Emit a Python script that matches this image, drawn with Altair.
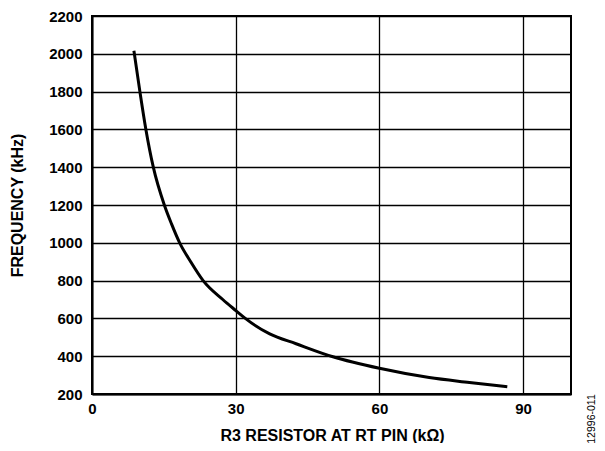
import altair as alt
import pandas as pd

resistance_kohm = [8.75, 10.0, 11.25, 12.8, 15.1, 16.6, 18.3, 20.6, 23.2, 27.3,
                   30.1, 32.0, 37.1, 42.6, 50.3, 60.0, 70.4, 78.8, 86.7]
frequency_khz = [2016, 1800, 1600, 1400, 1200, 1100, 1000, 900, 800, 700,
                 640, 600, 518, 466, 397, 336, 287, 261, 238]
x_ticks = [0, 30, 60, 90]
y_ticks = [200, 400, 600, 800, 1000, 1200, 1400, 1600, 1800, 2000, 2200]
fig_id = ["12996-011"]

df = pd.DataFrame({"r": resistance_kohm, "f": frequency_khz})
FONT = "Liberation Sans"

line = alt.Chart(df).mark_line(color="black", strokeWidth=3, interpolate="monotone").encode(
    x=alt.X("r:Q", scale=alt.Scale(domain=[0, 100], nice=False),
            axis=alt.Axis(values=x_ticks, title="R3 RESISTOR AT RT PIN (kΩ)", format="d",
                          titleX=240, titleY=46, titleBaseline="alphabetic",
                          labelPadding=7, labelFlush=False)),
    y=alt.Y("f:Q", scale=alt.Scale(domain=[200, 2200], nice=False),
            axis=alt.Axis(values=y_ticks, title="FREQUENCY (kHz)", format="d",
                          titleX=-75, titleY=189, titleBaseline="middle",
                          titleAngle=-90, labelPadding=10, labelFlush=False)),
)

label = alt.Chart(pd.DataFrame({"t": fig_id})).mark_text(
    angle=270, font=FONT, fontSize=10.5, color="black", align="center", baseline="middle"
).encode(text="t:N", x=alt.value(500), y=alt.value(403))

chart = (line + label).properties(
    width=479, height=378,
    autosize=alt.AutoSizeParams(type="none"),
    padding={"left": 84, "top": 8, "right": 26, "bottom": 49},
).configure_view(stroke="black", strokeWidth=2).configure_axis(
    labelFont=FONT, titleFont=FONT, labelFontSize=15, titleFontSize=16,
    labelFontWeight="bold", titleFontWeight="bold", labelColor="black", titleColor="black",
    domainColor="black", domainWidth=2, ticks=False, gridColor="black", gridWidth=1.3,
    gridOpacity=1,
)

chart.save("out.html", embed_options={"renderer": "svg", "actions": False})
